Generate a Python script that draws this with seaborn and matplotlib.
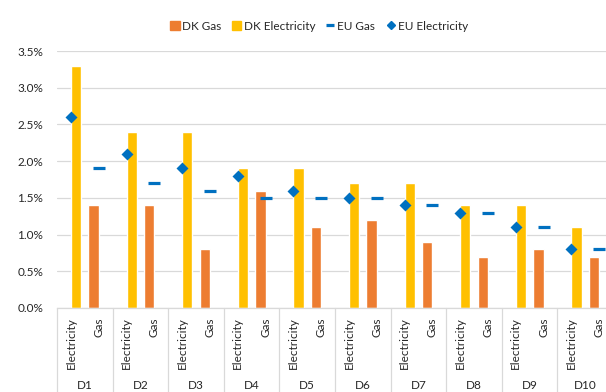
import matplotlib
matplotlib.use("Agg")
import matplotlib.pyplot as plt
from matplotlib.patches import Patch
from matplotlib.lines import Line2D
from matplotlib.ticker import PercentFormatter, MultipleLocator
import pandas as pd
import seaborn as sns

# Deciles and the two energy types shown within each decile
groups = ["D1", "D2", "D3", "D4", "D5", "D6", "D7", "D8", "D9", "D10"]
subcats = ["Electricity", "Gas"]

# Shares of expenditure, in percent
dk_electricity = [3.3, 2.4, 2.4, 1.9, 1.9, 1.7, 1.7, 1.4, 1.4, 1.1]
dk_gas = [1.4, 1.4, 0.8, 1.6, 1.1, 1.2, 0.9, 0.7, 0.8, 0.7]
eu_electricity = [2.6, 2.1, 1.9, 1.8, 1.6, 1.5, 1.4, 1.3, 1.1, 0.8]
eu_gas = [1.9, 1.7, 1.6, 1.5, 1.5, 1.5, 1.4, 1.3, 1.1, 0.8]

ORANGE = "#ED7D31"
YELLOW = "#FFC000"
BLUE = "#0070C0"
GRID = "#D9D9D9"
TEXT = "#262626"

sns.set_theme(style="white")
plt.rcParams["font.family"] = ["Lato", "DejaVu Sans"]

keys = [f"{g}|{s}" for g in groups for s in subcats]

bars = pd.DataFrame(
    [(f"{g}|Electricity", "DK Electricity", v) for g, v in zip(groups, dk_electricity)]
    + [(f"{g}|Gas", "DK Gas", v) for g, v in zip(groups, dk_gas)],
    columns=["key", "series", "value"],
)
eu_el = pd.DataFrame({"key": [f"{g}|Electricity" for g in groups], "value": eu_electricity})
eu_gs = pd.DataFrame({"key": [f"{g}|Gas" for g in groups], "value": eu_gas})

fig = plt.figure(figsize=(6.06, 3.92), dpi=100)
ax = fig.add_axes([57 / 606, 1 - 308 / 392, 556 / 606, 257 / 392])

sns.barplot(
    data=bars, x="key", y="value", hue="series", order=keys,
    hue_order=["DK Gas", "DK Electricity"],
    palette={"DK Gas": ORANGE, "DK Electricity": YELLOW},
    dodge=True, saturation=1, width=0.74, errorbar=None, legend=False,
    ax=ax, zorder=2,
)
sns.pointplot(
    data=eu_gs, x="key", y="value", order=keys, color=BLUE,
    marker="_", markersize=8.5, markeredgewidth=2.3, linestyle="none",
    errorbar=None, ax=ax, zorder=3,
)
sns.pointplot(
    data=eu_el, x="key", y="value", order=keys, color=BLUE,
    marker="D", markersize=4.5, linestyle="none",
    errorbar=None, ax=ax, zorder=4,
)

ax.set_xlim(-0.5, len(keys) - 0.5)
ax.set_ylim(0, 3.5)
ax.yaxis.set_major_locator(MultipleLocator(0.5))
ax.yaxis.set_major_formatter(PercentFormatter(xmax=100, decimals=1))
ax.grid(axis="y", color=GRID, linewidth=0.9, zorder=0)
ax.set_axisbelow(True)
for side in ["left", "right", "top"]:
    ax.spines[side].set_visible(False)
ax.spines["bottom"].set_color(GRID)
ax.spines["bottom"].set_linewidth(0.9)
ax.set_xlabel("")
ax.set_ylabel("")

ax.set_xticks(range(len(keys)))
ax.set_xticklabels([k.split("|")[1] for k in keys], rotation=90, fontsize=8.5, color=TEXT)
ax.tick_params(axis="x", length=0, pad=7)
ax.tick_params(axis="y", length=0, pad=10, labelsize=8.5, labelcolor=TEXT)

# Decile labels and separators under the rotated sub-labels
trans = ax.get_xaxis_transform()
for i, g in enumerate(groups):
    ax.text(2 * i + 0.5, -0.30, g, transform=trans, ha="center", va="center",
            fontsize=8.5, color=TEXT)
for i in range(len(groups) + 1):
    x = 2 * i - 0.5
    ax.plot([x, x], [0, -0.34], transform=trans, color=GRID, linewidth=0.9,
            clip_on=False)

handles = [
    Patch(facecolor=ORANGE, edgecolor=ORANGE, label="DK Gas"),
    Patch(facecolor=YELLOW, edgecolor=YELLOW, label="DK Electricity"),
    Line2D([], [], color=BLUE, marker="_", linestyle="none", markersize=6,
           markeredgewidth=2.3, label="EU Gas"),
    Line2D([], [], color=BLUE, marker="D", linestyle="none", markersize=4,
           label="EU Electricity"),
]
fig.legend(handles=handles, loc="center", bbox_to_anchor=(319 / 606, 1 - 26 / 392),
           ncol=4, frameon=False, fontsize=8.5, handlelength=0.8, handleheight=0.8,
           handletextpad=0.2, columnspacing=0.9, labelcolor=TEXT)

fig.savefig("out.png", dpi=100)
